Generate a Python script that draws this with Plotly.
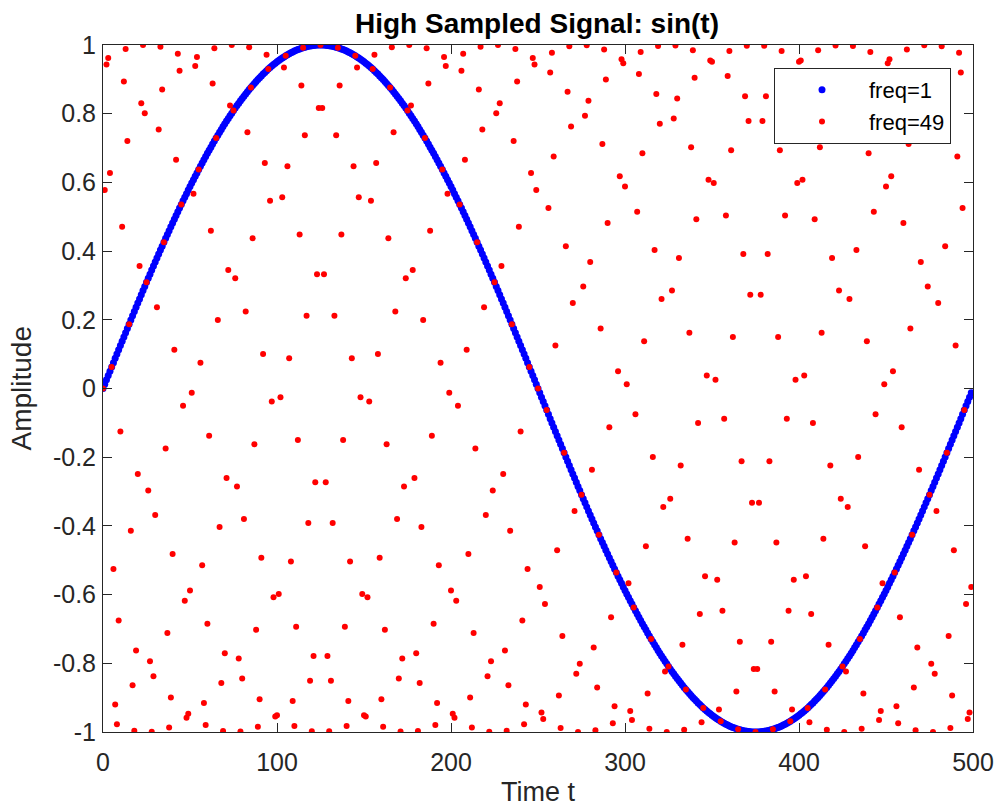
import numpy as np
import plotly.graph_objects as go

# Signal parameters (legend: freq=1, freq=49; t = 0..499 samples)
n_samples = 500
freqs = [1, 49]
series_names = ["freq=1", "freq=49"]
series_colors = ["#0000FF", "#FF0000"]
series_sizes = [7, 6]
x_ticks = [0, 100, 200, 300, 400, 500]
y_ticks = [-1, -0.8, -0.6, -0.4, -0.2, 0, 0.2, 0.4, 0.6, 0.8, 1]
y_tick_labels = ["-1", "-0.8", "-0.6", "-0.4", "-0.2", "0", "0.2", "0.4", "0.6", "0.8", "1"]
title_text = "High Sampled Signal: sin(t)"
x_label = "Time t"
y_label = "Amplitude"

t = np.arange(n_samples)

fig = go.Figure()
for f, name, col, sz in zip(freqs, series_names, series_colors, series_sizes):
    y = np.sin(2 * np.pi * f * t / n_samples)
    fig.add_trace(go.Scatter(x=t, y=y, mode="markers", name=name,
                             marker=dict(color=col, size=sz, line=dict(width=0))))

W, H = 995, 812
L, R, T, B = 103, 22, 45, 80
font = "Liberation Sans, Arial, sans-serif"
axis_common = dict(showline=True, linecolor="#262626", linewidth=1, mirror="ticks",
                   ticks="inside", ticklen=9, tickcolor="#262626", showgrid=False,
                   zeroline=False, automargin=False,
                   tickfont=dict(family=font, size=25, color="#262626"))

fig.update_layout(
    width=W, height=H,
    paper_bgcolor="white", plot_bgcolor="white",
    margin=dict(l=L, r=R, t=T, b=B),
    title=dict(text="<b>" + title_text + "</b>", x=537 / W, xanchor="center",
               yref="container", y=1 - 23 / H, yanchor="middle",
               font=dict(family=font, size=28, color="black")),
    xaxis=dict(range=[0, 500], tickvals=x_ticks, ticklabelstandoff=8, **axis_common),
    yaxis=dict(range=[-1, 1], tickvals=y_ticks, ticktext=y_tick_labels, ticklabelstandoff=1,
               **axis_common),
    legend=dict(x=(951 - L) / (W - L - R), y=1 - (68 - T) / (H - T - B), xanchor="right",
                yanchor="top", bgcolor="white", bordercolor="#262626", borderwidth=1,
                itemwidth=84, font=dict(family=font, size=22, color="black")),
    showlegend=True,
    annotations=[
        dict(text=x_label, xref="paper", x=0.5, xanchor="center",
             yref="paper", y=-(792 - (H - B)) / (H - T - B), yanchor="middle",
             showarrow=False, font=dict(family=font, size=27, color="#262626")),
        dict(text=y_label, textangle=-90, xref="paper", x=-(L - 21) / (W - L - R),
             xanchor="center", yref="paper", y=0.5, yanchor="middle",
             showarrow=False, font=dict(family=font, size=28, color="#262626")),
    ],
)

fig.write_html("out.html", config={"displayModeBar": False},
               post_script="document.body.style.margin='0';document.body.style.overflow='hidden';")
